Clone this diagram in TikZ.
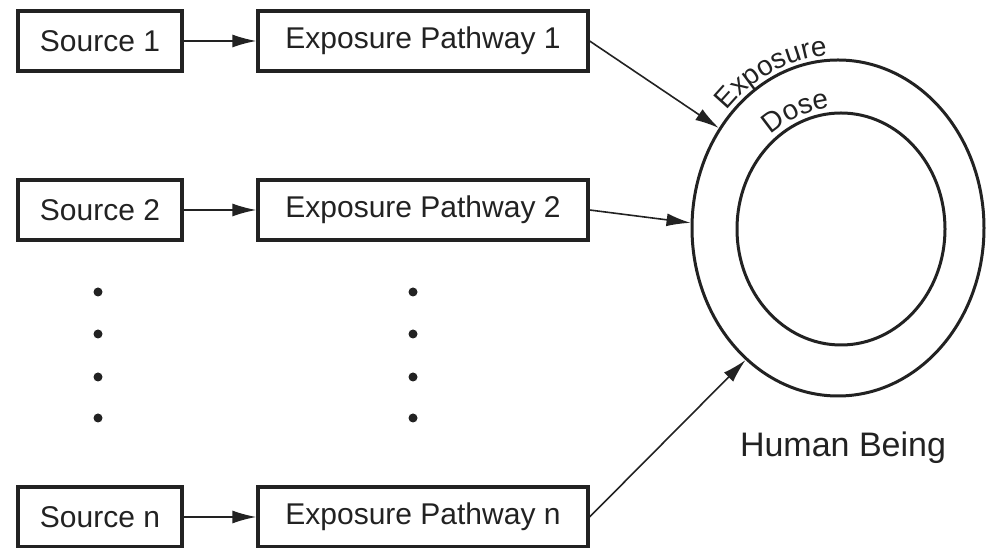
\documentclass[tikz,border=0pt]{standalone}
\usepackage{fontspec}
\setmainfont{Liberation Sans}
\usetikzlibrary{arrows.meta,shapes.geometric,decorations.text}
\definecolor{ink}{HTML}{222222}
\begin{document}
\begin{tikzpicture}[x=1pt,y=1pt,
  box/.style={draw=ink,line width=3.2pt,minimum height=60pt,inner sep=0pt,text=ink,font=\fontsize{30}{30}\selectfont},
  srcbox/.style={box,minimum width=164pt},
  pathbox/.style={box,minimum width=330pt},
  conn/.style={draw=ink,line width=1.6pt,-{Latex[length=24pt,width=13pt]}},
  ring/.style={draw=ink,line width=3pt,ellipse,inner sep=0pt},
  dot/.style={circle,fill=ink,inner sep=0pt,minimum size=9pt}]
\useasboundingbox (0,0) rectangle (997,548);
% sources and pathways
\node[srcbox] (s1) at (100,507) {Source 1};
\node[pathbox] (p1) at (423,507) {Exposure Pathway 1};
\node[srcbox] (s2) at (100,338) {Source 2};
\node[pathbox] (p2) at (423,338) {Exposure Pathway 2};
\node[srcbox] (sn) at (100,31) {Source n};
\node[pathbox] (pn) at (423,31) {Exposure Pathway n};
% dots
\foreach \yy [count=\i] in {256,214,171,130}{
  \node[dot] (dl\i) at (98,\yy) {};
  \node[dot] (dr\i) at (413,\yy) {};
}
% human being
\node[ring,minimum width=292pt,minimum height=336pt] (outer) at (838,320) {};
\node[ring,minimum width=208pt,minimum height=232pt] (inner) at (841,319) {};
\node[text=ink,font=\fontsize{34}{34}\selectfont] (hb) at (843,100) {Human Being};
% labels along rings
\path[decorate,decoration={text along path,text align=center,
  text={|\fontsize{28}{28}\selectfont\color{ink}|Exposure}}]
  (838,320) ++(142:151 and 173) arc[start angle=142,end angle=89,x radius=151,y radius=173];
\path[decorate,decoration={text along path,text align=center,
  text={|\fontsize{28}{28}\selectfont\color{ink}|Dose}}]
  (841,319) ++(136:110 and 122) arc[start angle=136,end angle=89,x radius=110,y radius=122];
% connectors
\draw[conn] (s1) -- (p1);
\draw[conn] (s2) -- (p2);
\draw[conn] (sn) -- (pn);
\draw[conn] (p1.east) -- (outer.140);
\draw[conn] (p2.east) -- (outer.178);
\draw[conn] (pn.east) -- (outer.235);
\end{tikzpicture}
\end{document}
